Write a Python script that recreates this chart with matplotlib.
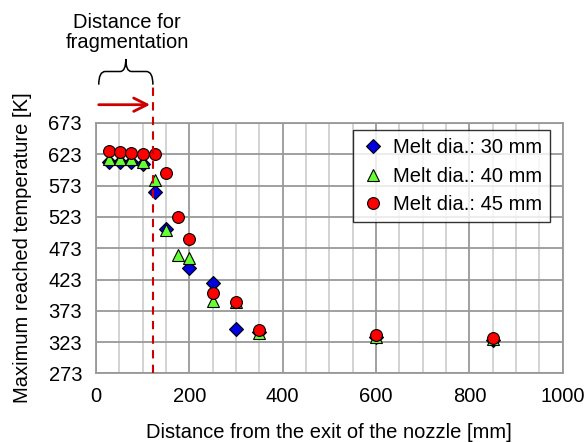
import numpy as np
import matplotlib.pyplot as plt
from matplotlib.path import Path
from matplotlib.patches import PathPatch

plt.rcParams['font.family'] = ['Liberation Sans', 'DejaVu Sans']

# distances from the nozzle exit [mm]
x_30 = [28, 52, 76, 101, 126, 150, 200, 250, 300, 350, 600, 850]
t_30 = [611, 611, 611, 608, 562, 503, 442, 418, 344, 340, 331, 326]

x_40 = [28, 52, 76, 101, 126, 150, 175, 200, 250, 300, 350, 600, 850]
t_40 = [615, 615, 615, 610, 582, 502, 462, 457, 389, 387, 338, 332, 328]

x_45 = [28, 52, 76, 101, 126, 150, 175, 200, 250, 300, 350, 600, 850]
t_45 = [628, 627, 625, 624, 623, 593, 522, 488, 402, 387, 342, 334, 330]

frag_dist = 122
fs = 14.5

fig = plt.figure(figsize=(5.85, 4.42), dpi=100)
ax = fig.add_axes([0.164, 0.155, 0.798, 0.567])

ax.plot(x_30, t_30, 'D', ms=7, mfc='#0000E0', mec='black', mew=0.8,
        ls='none', label='Melt dia.: 30 mm', zorder=3)
ax.plot(x_40, t_40, '^', ms=9, mfc='#66FF33', mec='black', mew=0.8,
        ls='none', label='Melt dia.: 40 mm', zorder=4)
ax.plot(x_45, t_45, 'o', ms=8.5, mfc='#FF0000', mec='black', mew=0.8,
        ls='none', label='Melt dia.: 45 mm', zorder=5)

ax.set_xlim(0, 1000)
ax.set_ylim(273, 673)
ax.set_xticks(np.arange(0, 1001, 200))
ax.set_xticks(np.arange(0, 1001, 50), minor=True)
ax.set_yticks(np.arange(273, 674, 50))
ax.grid(which='major', color='#999999', lw=1.3)
ax.grid(which='minor', axis='x', color='#D0D0D0', lw=1.3)
ax.tick_params(which='both', length=0, labelsize=fs, pad=10)
for s in ax.spines.values():
    s.set_color('#999999')
    s.set_linewidth(1.3)

ax.set_xlabel('Distance from the exit of the nozzle [mm]', fontsize=fs, labelpad=12)
ax.set_ylabel('Maximum reached temperature [K]', fontsize=fs, labelpad=12)

leg = ax.legend(loc='upper right', bbox_to_anchor=(0.995, 1.01), fontsize=fs,
                frameon=True, fancybox=False, edgecolor='black',
                handletextpad=0.4, borderpad=0.4, labelspacing=0.45, handlelength=1.2)
leg.get_frame().set_linewidth(1.0)

# dashed line marking fragmentation distance
ax.plot([frag_dist, frag_dist], [273, 733], color='#CC0000', ls=(0, (4, 3)),
        lw=1.5, clip_on=False, zorder=6)

# red arrow
ax.annotate('', xy=(frag_dist, 702), xytext=(0, 702),
            arrowprops=dict(arrowstyle='->', color='#CC0000', lw=2,
                            mutation_scale=24),
            annotation_clip=False)

# curly brace above the arrow
x0, x1 = 6, frag_dist
xm = (x0 + x1) / 2
yb, ym, yt = 734, 755, 775
codes = [Path.MOVETO, Path.CURVE3, Path.CURVE3, Path.LINETO,
         Path.CURVE3, Path.CURVE3,
         Path.MOVETO, Path.CURVE3, Path.CURVE3, Path.LINETO,
         Path.CURVE3, Path.CURVE3]
verts = [(x0, yb), (x0, ym), (x0 + 14, ym), (xm - 12, ym),
         (xm, ym), (xm, yt),
         (xm, yt), (xm, ym), (xm + 12, ym), (x1 - 14, ym),
         (x1, ym), (x1, yb)]
ax.add_patch(PathPatch(Path(verts, codes), fill=False, color='black',
                       lw=1.1, clip_on=False))

ax.text(xm + 3, 786, 'Distance for\nfragmentation', ha='center', va='bottom',
        fontsize=fs, linespacing=1.05, clip_on=False)

fig.savefig('out.png', dpi=100)
